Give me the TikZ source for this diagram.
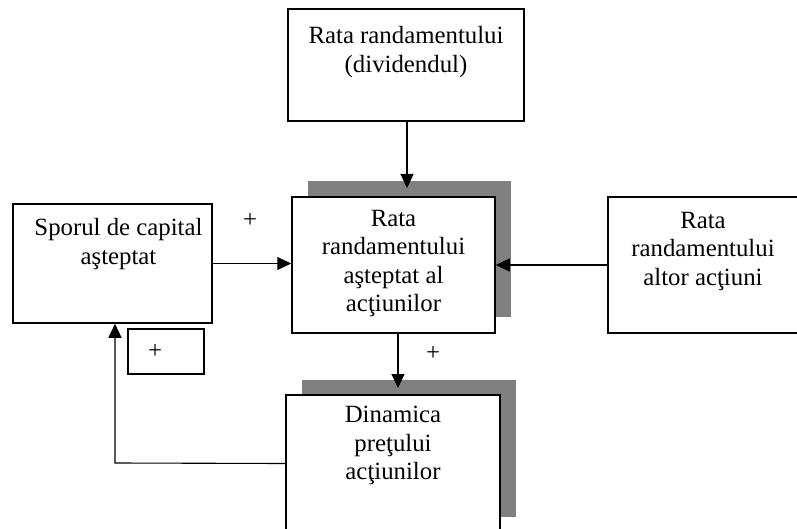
\documentclass[tikz,border=0pt]{standalone}
\usepackage{fontspec}
\setmainfont{Liberation Serif}
\usetikzlibrary{arrows.meta}
\definecolor{shadowgray}{RGB}{128,128,128}

\tikzset{
    box/.style={draw, line width=0.75pt, fill=white, inner sep=0pt},
    shadowbox/.style={fill=shadowgray, draw=none, inner sep=0pt},
    boxtext/.style={anchor=north, align=center, inner sep=0pt},
    conn/.style={line width=0.55pt, -{Triangle[length=7pt,width=6.5pt]}},
}

\begin{document}
\begin{tikzpicture}[x=0.5pt, y=-0.5pt, font=\fontsize{12.4pt}{14.25pt}\selectfont]
    \useasboundingbox (0,0) rectangle (797,529);

    % Define nodes
    \node[shadowbox, minimum width=101.5pt, minimum height=68pt] (asteptat-sh) at (409,249) {};
    \node[shadowbox, minimum width=107pt, minimum height=68.5pt] (dinamica-sh) at (408.5,448) {};

    \node[box, minimum width=118pt, minimum height=56pt,
          label={[boxtext, yshift=-9pt]north:{Rata randamentului\\(dividendul)}}]
          (divid) at (406,65) {};
    \node[box, minimum width=101.5pt, minimum height=68pt,
          label={[boxtext, yshift=-6.7pt]north:{Rata\\randamentului\\aşteptat al\\acţiunilor}}]
          (asteptat) at (393.5,265) {};
    \node[box, minimum width=99.5pt, minimum height=59.5pt,
          label={[boxtext, xshift=3pt, yshift=-7.5pt]north:{Sporul de capital\\aşteptat}}]
          (capital) at (112.5,263.5) {};
    \node[box, minimum width=95pt, minimum height=68pt,
          label={[boxtext, yshift=-7.7pt]north:{Rata\\randamentului\\altor acţiuni}}]
          (altor) at (703,265) {};
    \node[box, minimum width=107pt, minimum height=68.5pt,
          label={[boxtext, yshift=-5.8pt]north:{Dinamica\\preţului\\acţiunilor}}]
          (dinamica) at (393,463.5) {};
    \node[box, minimum width=38pt, minimum height=22.5pt, inner xsep=10pt,
          text width=18pt, align=left] (plusbox) at (166,351.5) {+};

    \node (plus-in) at (250,220) {+};
    \node (plus-out) at (433,353) {+};

    \coordinate (top-tip) at (407,188);
    \coordinate (down-tip) at (398,388);
    \coordinate (fb) at (115,463);

    % Connect nodes
    \draw[conn] (divid.south -| top-tip) -- (top-tip);
    \draw[conn] (capital.east) -- (capital.east -| asteptat.west);
    \draw[conn] (altor.west) -- (asteptat.east);
    \draw[conn] (asteptat.south -| down-tip) -- (down-tip);
    \draw[conn] (dinamica.west) -- (fb) -- (fb |- capital.south);
\end{tikzpicture}
\end{document}
